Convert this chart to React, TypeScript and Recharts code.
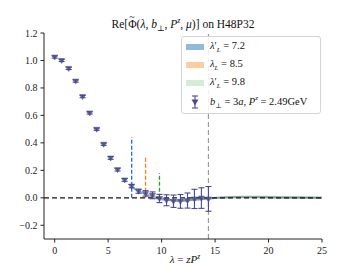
import React from 'react';
import {
  ComposedChart,
  Area,
  Scatter,
  ErrorBar,
  XAxis,
  YAxis,
  ReferenceLine,
} from 'recharts';

// lattice data points, b_perp = 3a, Pz = 2.49 GeV
const lambdas = [0, 0.65, 1.31, 1.96, 2.61, 3.27, 3.92, 4.58, 5.23, 5.88, 6.54, 7.19, 7.84, 8.5, 9.15, 9.8, 10.46, 11.11, 11.76, 12.42, 13.07, 13.72, 14.38];
const reVals = [1.025, 1.0, 0.942, 0.85, 0.737, 0.618, 0.499, 0.39, 0.29, 0.205, 0.13, 0.085, 0.048, 0.032, 0.018, -0.005, -0.018, -0.025, -0.026, -0.02, -0.008, -0.002, -0.008];
const reErrs = [0.008, 0.008, 0.008, 0.008, 0.008, 0.008, 0.008, 0.008, 0.01, 0.01, 0.01, 0.012, 0.015, 0.02, 0.025, 0.03, 0.04, 0.045, 0.05, 0.055, 0.07, 0.075, 0.09];

// extrapolation bands
const blueX = [7.2, 7.8, 8.5, 9.2, 9.8, 10.5, 11.1, 11.8, 12.4, 13.1, 14.4, 16, 18, 20, 22, 25];
const blueMid = [0.08, 0.05, 0.025, 0.005, -0.008, -0.016, -0.02, -0.02, -0.017, -0.012, -0.004, 0.002, 0.004, 0.003, 0.001, 0];
const orangeX = [8.5, 9.2, 9.8, 10.5, 11.1, 11.8, 12.4, 13.1, 14.4, 16, 18, 20, 22, 25];
const orangeMid = [0.04, 0.015, 0, -0.012, -0.02, -0.022, -0.02, -0.015, -0.005, 0.003, 0.006, 0.004, 0.002, 0];
const greenX = [9.8, 10.5, 11.1, 11.8, 12.4, 13.1, 14.4, 16, 17, 18, 19, 20, 22, 25];
const greenMid = [0.008, -0.01, -0.02, -0.024, -0.022, -0.017, -0.006, 0.004, 0.008, 0.01, 0.01, 0.008, 0.004, 0.001];

const lambdaL = [7.2, 8.5, 9.8];
const markTops = [0.44, 0.3, 0.18];
const lambdaMax = 14.38;

const xTicks = [0, 5, 10, 15, 20, 25];
const yTicks = [-0.2, 0, 0.2, 0.4, 0.6, 0.8, 1.0, 1.2];

const BLUE = '#1f77b4';
const ORANGE = '#ff7f0e';
const GREEN = '#2ca02c';
const PTS = '#4a4a92';
const FONT = 'Liberation Serif, DejaVu Serif, serif';

const points = lambdas.map((x, i) => ({ x, y: reVals[i], err: reErrs[i] }));
const band = (xs: number[], mids: number[], w: number) =>
  xs.map((x, i) => ({ x, range: [mids[i] - w, mids[i] + w] }));
const blueBand = band(blueX, blueMid, 0.008);
const orangeBand = band(orangeX, orangeMid, 0.007);
const greenBand = band(greenX, greenMid, 0.007);

const TriDown = (props: any) => {
  const { cx, cy } = props;
  if (cx == null || cy == null) return null;
  return (
    <polygon
      points={`${cx - 3},${cy - 2} ${cx + 3},${cy - 2} ${cx},${cy + 3}`}
      fill={PTS}
      fillOpacity={0.8}
      stroke={PTS}
      strokeWidth={0.5}
    />
  );
};

const fmt = (v: number) => v.toFixed(1).replace('-', '\u2212');
const txt = { fontFamily: FONT, fontSize: 10 };

const XTick = (props: any) => {
  const { x, y, payload } = props;
  return (
    <text x={x} y={y + 9} textAnchor="middle" fill="#222" style={txt}>
      {payload.value}
    </text>
  );
};

const YTick = (props: any) => {
  const { x, y, payload } = props;
  return (
    <text x={x - 1} y={y + 3.5} textAnchor="end" fill="#222" style={txt}>
      {fmt(payload.value)}
    </text>
  );
};

const XLabel = (props: any) => {
  const vb = props.viewBox || {};
  const cx = (vb.x ?? 44) + (vb.width ?? 278) / 2 + 2;
  return (
    <text x={cx} y={263} textAnchor="middle" fill="#111" style={{ fontFamily: FONT, fontSize: 11 }}>
      <tspan fontStyle="italic">λ</tspan>
      <tspan> = </tspan>
      <tspan fontStyle="italic">zP</tspan>
      <tspan fontStyle="italic" fontSize={7.5} dy={-4}>z</tspan>
    </text>
  );
};

const Patch = ({ color, opacity }: { color: string; opacity: number }) => (
  <span
    style={{
      display: 'inline-block',
      width: 18,
      height: 6,
      background: color,
      opacity,
      marginRight: 6,
      verticalAlign: 'middle',
    }}
  />
);

const LamPrime = () => (
  <>
    <i>λ</i>
    <span style={{ fontSize: 10 }}>′</span>
    <sub style={{ fontSize: 7 }}><i>L</i></sub>
  </>
);

const App: React.FC = () => {
  return (
    <div style={{ position: 'absolute', left: 0, top: 0, width: 357, height: 268, background: '#fff', fontFamily: FONT }}>
      <div style={{ position: 'absolute', left: 0, top: 16, width: 366, textAlign: 'center', fontSize: 11.5, color: '#111' }}>
        Re[
        <span style={{ position: 'relative', display: 'inline-block' }}>
          Φ
          <span style={{ position: 'absolute', left: 1, top: -7, fontSize: 10 }}>~</span>
        </span>
        (<i>λ</i>, <i>b</i><sub style={{ fontSize: 8 }}>⊥</sub>, <i>P</i><sup style={{ fontSize: 8 }}><i>z</i></sup>, <i>μ</i>)] on H48P32
      </div>
      <ComposedChart width={357} height={268} margin={{ top: 33, right: 35, left: 14, bottom: 9 }}>
        <XAxis
          type="number"
          dataKey="x"
          domain={[-1, 25]}
          ticks={xTicks}
          allowDataOverflow
          height={20}
          tickSize={3.5}
          stroke="#222"
          tick={<XTick />}
          label={<XLabel />}
        />
        <XAxis xAxisId="top" orientation="top" type="number" domain={[-1, 25]} height={0} tick={false} tickLine={false} stroke="#222" />
        <YAxis
          type="number"
          domain={[-0.3, 1.2]}
          ticks={yTicks}
          allowDataOverflow
          width={30}
          tickSize={3.5}
          stroke="#222"
          tick={<YTick />}
        />
        <YAxis yAxisId="right" orientation="right" domain={[-0.3, 1.2]} width={0} tick={false} tickLine={false} stroke="#222" />

        <Area data={greenBand} dataKey="range" type="monotone" stroke="none" fill={GREEN} fillOpacity={0.25} isAnimationActive={false} />
        <Area data={orangeBand} dataKey="range" type="monotone" stroke="none" fill={ORANGE} fillOpacity={0.4} isAnimationActive={false} />
        <Area data={blueBand} dataKey="range" type="monotone" stroke="none" fill={BLUE} fillOpacity={0.5} isAnimationActive={false} />

        <ReferenceLine y={0} stroke="#111" strokeDasharray="5 3" strokeWidth={1.2} />
        <ReferenceLine x={lambdaMax} stroke="#999" strokeDasharray="5 3" strokeWidth={1.2} />
        {lambdaL.map((l, i) => (
          <ReferenceLine
            key={l}
            segment={[{ x: l, y: 0 }, { x: l, y: markTops[i] }]}
            stroke={[BLUE, ORANGE, GREEN][i]}
            strokeDasharray="4 2"
            strokeWidth={1.3}
          />
        ))}

        <Scatter data={points} dataKey="y" shape={<TriDown />} isAnimationActive={false}>
          <ErrorBar dataKey="err" direction="y" width={3} stroke={PTS} strokeWidth={1.1} />
        </Scatter>
      </ComposedChart>

      <div
        style={{
          position: 'absolute',
          left: 181,
          top: 36,
          width: 134,
          padding: '2px 0 2px 4px',
          border: '1px solid #d5d5d5',
          borderRadius: 3,
          background: 'rgba(255,255,255,0.85)',
          fontSize: 10.5,
          lineHeight: '14px',
          color: '#111',
        }}
      >
        <div>
          <Patch color={BLUE} opacity={0.5} />
          <LamPrime /> = 7.2
        </div>
        <div>
          <Patch color={ORANGE} opacity={0.4} />
          <i>λ</i><sub style={{ fontSize: 7 }}><i>L</i></sub> = 8.5
        </div>
        <div>
          <Patch color={GREEN} opacity={0.2} />
          <LamPrime /> = 9.8
        </div>
        <div style={{ display: 'flex', alignItems: 'center', height: 18 }}>
          <svg width={18} height={14} style={{ marginRight: 6 }}>
            <line x1={9} y1={1} x2={9} y2={13} stroke={PTS} strokeWidth={1.1} />
            <line x1={6} y1={1} x2={12} y2={1} stroke={PTS} strokeWidth={1.1} />
            <line x1={6} y1={13} x2={12} y2={13} stroke={PTS} strokeWidth={1.1} />
            <polygon points="5.5,4.5 12.5,4.5 9,10.5" fill={PTS} />
          </svg>
          <span>
            <i>b</i><sub style={{ fontSize: 7 }}>⊥</sub> = 3<i>a</i>, <i>P</i><sup style={{ fontSize: 7 }}><i>z</i></sup> = 2.49GeV
          </span>
        </div>
      </div>
    </div>
  );
};

export default App;
